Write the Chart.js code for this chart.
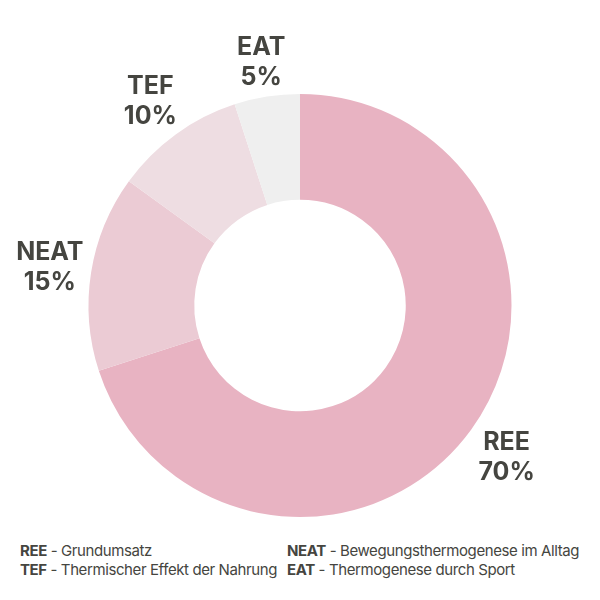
<!DOCTYPE html>
<html>
<head>
<meta charset="utf-8">
<script src="https://cdn.jsdelivr.net/npm/chart.js@4"></script>
<style>
  html, body { margin: 0; padding: 0; background: #fff; width: 600px; height: 600px; overflow: hidden; }
  #wrap { position: absolute; left: 0; top: 0; width: 600px; height: 530px; }
  .legend { position: absolute; top: 541px; font-family: Inter, "Liberation Sans", sans-serif; font-size: 15px; line-height: 19px; color: #454540; letter-spacing: -0.4px; white-space: nowrap; }
  .legend b { font-weight: 700; }
</style>
</head>
<body>
<div id="wrap"><canvas id="c"></canvas></div>
<div class="legend" style="left:20px" id="leg1"></div>
<div class="legend" style="left:287px" id="leg2"></div>
<script>
const categories = ["REE", "NEAT", "TEF", "EAT"];
const values = [70, 15, 10, 5];
const descriptions = ["Grundumsatz", "Bewegungsthermogenese im Alltag", "Thermischer Effekt der Nahrung", "Thermogenese durch Sport"];
const colors = ["#e8b3c2", "#ebcbd4", "#eedde2", "#efefef"];

const leftOrder = [0, 2];
const rightOrder = [1, 3];
document.getElementById('leg1').innerHTML = leftOrder.map(i => '<b>' + categories[i] + '</b> - ' + descriptions[i]).join('<br>');
document.getElementById('leg2').innerHTML = rightOrder.map(i => '<b>' + categories[i] + '</b> - ' + descriptions[i]).join('<br>');

const outerLabels = {
  id: 'outerLabels',
  afterDatasetsDraw(chart) {
    const ctx = chart.ctx;
    const meta = chart.getDatasetMeta(0);
    ctx.save();
    ctx.fillStyle = '#454540';
    ctx.font = '700 25px Inter, "Liberation Sans", sans-serif';
    ctx.textAlign = 'center';
    ctx.textBaseline = 'middle';
    const lineGap = 15;
    meta.data.forEach((arc, i) => {
      const l1 = categories[i], l2 = values[i] + '%';
      const w = Math.max(ctx.measureText(l1).width, ctx.measureText(l2).width);
      const h = 2 * lineGap + 28;
      const mid = (arc.startAngle + arc.endAngle) / 2;
      const c = Math.cos(mid), s = Math.sin(mid);
      const r = arc.outerRadius + 4 + (w / 2) * Math.abs(c) + (h / 2) * Math.abs(s);
      const x = arc.x + c * r;
      const y = arc.y + s * r + 2;
      ctx.fillText(l1, x, y - lineGap);
      ctx.fillText(l2, x, y + lineGap);
    });
    ctx.restore();
  }
};

new Chart(document.getElementById('c'), {
  type: 'doughnut',
  data: {
    labels: categories,
    datasets: [{ data: values, backgroundColor: colors, borderWidth: 0, hoverOffset: 0 }]
  },
  options: {
    responsive: true,
    maintainAspectRatio: false,
    animation: false,
    cutout: '50%',
    layout: { padding: { top: 94, bottom: 13, left: 0, right: 0 } },
    plugins: { legend: { display: false }, tooltip: { enabled: false } }
  },
  plugins: [outerLabels]
});
</script>
</body>
</html>
